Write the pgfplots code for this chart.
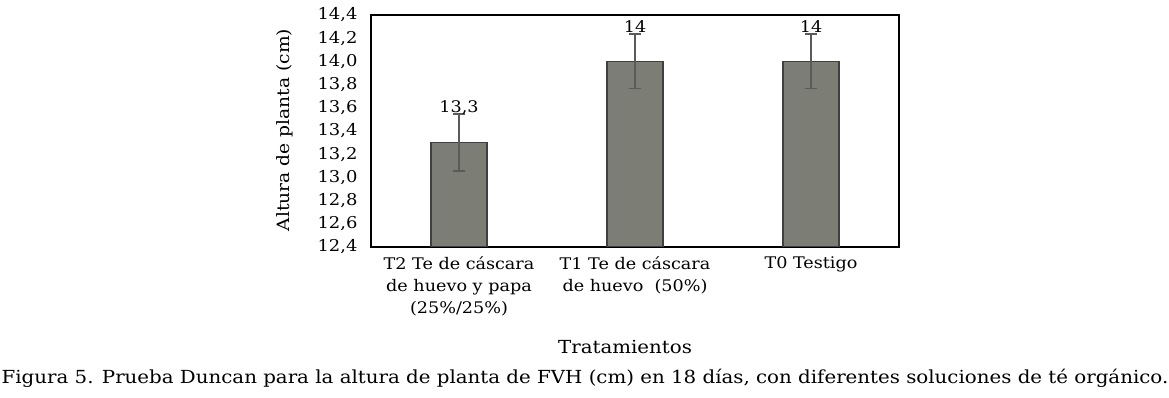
\documentclass[border=0pt]{standalone}
\usepackage{pgfplots}
\pgfplotsset{compat=1.18}
\usepackage{fontspec}
\setmainfont[FakeStretch=1.1]{DejaVu Serif}
\definecolor{barfill}{RGB}{124,126,118}
\definecolor{barline}{RGB}{64,64,64}
\definecolor{errc}{RGB}{90,90,90}
\begin{document}
\begin{tikzpicture}[font=\fontsize{16bp}{22bp}\selectfont]
\useasboundingbox (0,0) rectangle (1169bp,398bp);
\begin{axis}[
  at={(371bp,151bp)}, anchor=south west,
  width=528bp, height=232bp, scale only axis,
  xmin=-0.5, xmax=2.5, ymin=12.4, ymax=14.4,
  ytick={12.4,12.6,12.8,13.0,13.2,13.4,13.6,13.8,14.0,14.2,14.4},
  yticklabel style={/pgf/number format/.cd, fixed, fixed zerofill, precision=1, use comma, assume math mode=true, /tikz/.cd, xshift=-10bp, font=\fontsize{16.3bp}{22bp}\selectfont},
  xtick={0,1,2},
  xticklabels={{T2 Te de cáscara\\de huevo y papa\\(25\%/25\%)},{T1 Te de cáscara\\de huevo\ \ (50\%)},{T0 Testigo}},
  xticklabel style={align=center, yshift=-6bp, font=\fontsize{16bp}{22bp}\selectfont},
  major tick length=0pt,
  axis line style={line width=1.6bp, black},
  ybar, bar width=56bp,
  nodes near coords,
  point meta=explicit symbolic,
  every node near coord/.append style={anchor=center, yshift=35bp, font=\fontsize{16bp}{22bp}\selectfont, text=black},
]
\addplot[fill=barfill, draw=barline, line width=1.5bp,
  error bars/.cd, y dir=both, y explicit,
  error bar style={line width=1.5bp, color=errc},
  error mark options={rotate=90, mark size=6bp, line width=1.5bp, color=errc}]
  table[x=x, y=y, y error=e, meta=lab] {
x y e lab
0 13.3 0.245 13,3
1 14.0 0.235 14
2 14.0 0.235 14
};
\end{axis}
\node[rotate=90, font=\fontsize{17bp}{22bp}\selectfont] at (285bp,268bp) {Altura de planta (cm)};
\node[font=\fontsize{18bp}{22bp}\selectfont] at (625bp,51bp) {Tratamientos};
\node[font=\fontsize{18bp}{22bp}\selectfont] at (585bp,20bp) {Figura 5. Prueba Duncan para la altura de planta de FVH (cm) en 18 días, con diferentes soluciones de té orgánico.};
\end{tikzpicture}
\end{document}
